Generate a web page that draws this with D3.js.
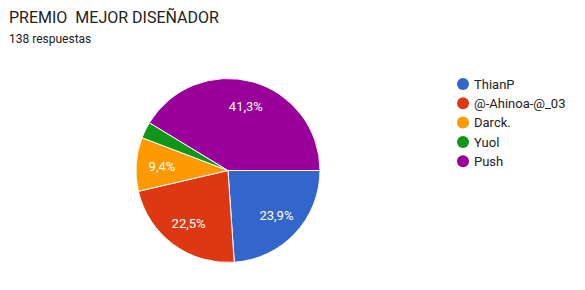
<!DOCTYPE html>
<html>
<head>
<meta charset="utf-8">
<script src="https://cdn.jsdelivr.net/npm/d3@7"></script>
<style>
  body { margin: 0; background: #fff; }
  text { font-family: Roboto, Arial, sans-serif; }
</style>
</head>
<body>
<svg id="chart" width="585" height="290"></svg>
<script>
const names = ['ThianP', '@-Ahinoa-@_03', 'Darck.', 'Yuol', 'Push'];
const counts = [33, 31, 13, 4, 57];
const colors = ['#3366cc', '#dc3912', '#ff9900', '#109618', '#990099'];

const svg = d3.select('#chart');
const total = d3.sum(counts);

// title
svg.append('text')
  .attr('x', 9).attr('y', 23)
  .attr('font-size', 16).attr('fill', '#212121')
  .attr('xml:space', 'preserve')
  .text('PREMIO  MEJOR DISEÑADOR');

svg.append('text')
  .attr('x', 9).attr('y', 43)
  .attr('font-size', 12).attr('fill', '#212121')
  .text(total + ' respuestas');

// pie, starting at 3 o'clock, clockwise
const radius = 92;
const pie = d3.pie().sort(null)
  .startAngle(Math.PI / 2)
  .endAngle(Math.PI / 2 + 2 * Math.PI);
const arcs = pie(counts);
const arc = d3.arc().innerRadius(0).outerRadius(radius);
const labelArc = d3.arc().innerRadius(radius * 0.72).outerRadius(radius * 0.72);

const g = svg.append('g').attr('transform', 'translate(228,170.5)');

g.selectAll('path').data(arcs).enter().append('path')
  .attr('d', arc)
  .attr('fill', (d, i) => colors[i])
  .attr('stroke', '#fff')
  .attr('stroke-width', 1);

const fmt = v => (v * 100).toFixed(1).replace('.', ',') + '%';

g.selectAll('.lbl').data(arcs.filter(d => d.value / total > 0.05)).enter().append('text')
  .attr('class', 'lbl')
  .attr('transform', d => `translate(${labelArc.centroid(d)})`)
  .attr('text-anchor', 'middle')
  .attr('dy', '0.36em')
  .attr('font-size', 13)
  .attr('fill', '#fff')
  .text(d => fmt(d.value / total));

// legend
const legend = svg.append('g').attr('transform', 'translate(463,84)');
const item = legend.selectAll('g').data(names).enter().append('g')
  .attr('transform', (d, i) => `translate(0,${i * 19.3})`);
item.append('circle')
  .attr('r', 6)
  .attr('fill', (d, i) => colors[i]);
item.append('text')
  .attr('x', 11).attr('dy', '0.36em')
  .attr('font-size', 13).attr('fill', '#222')
  .text(d => d);
</script>
</body>
</html>
